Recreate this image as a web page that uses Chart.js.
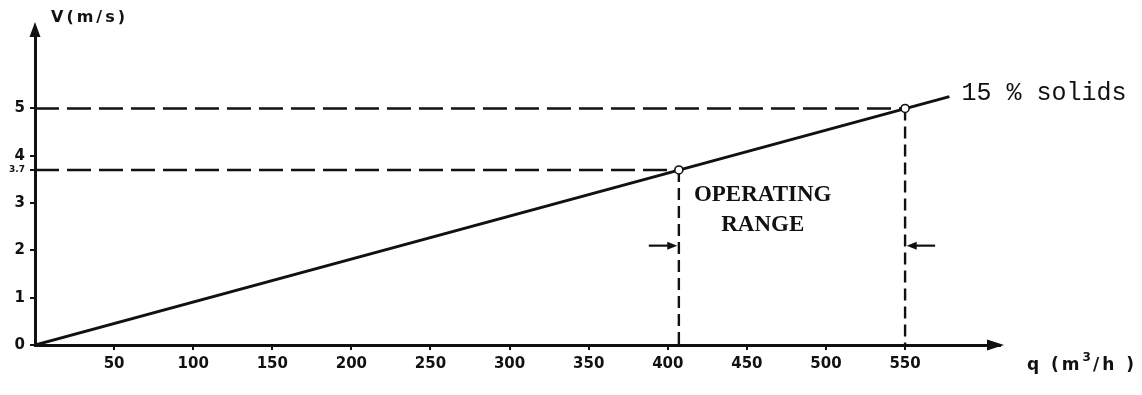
<!DOCTYPE html>
<html>
<head>
<meta charset="utf-8">
<script src="https://cdn.jsdelivr.net/npm/chart.js@4/dist/chart.umd.min.js"></script>
<style>
  html, body { margin: 0; padding: 0; background: #fff; }
  #wrap { width: 1142px; height: 395px; position: relative; }
</style>
</head>
<body>
<div id="wrap"><canvas id="c"></canvas></div>
<script>
// Flow rate q (m3/h) tick labels and velocity V (m/s) tick labels
const qTicks = [50, 100, 150, 200, 250, 300, 350, 400, 450, 500, 550];
const vTicks = [0, 1, 2, 3, 3.7, 4, 5];
const vTickLabels = ['0', '1', '2', '3', '3.7', '4', '5'];

// 15 % solids curve: velocity against flow rate
const curveQ = [0, 407, 550, 578];
const curveV = [0, 3.7, 5, 5.25];

// Limits of the operating range on the curve
const rangeQ = [407, 550];
const rangeV = [3.7, 5];

// Height of the range arrows and their length in q units
const arrowV = 2.1;
const arrowLen = 19;

const qMax = 610;
const vMax = 6.7;

const INK = '#111';

const toPts = (xs, ys) => xs.map((x, i) => ({ x: x, y: ys[i] }));

const datasets = [
  // dashed guides from the axes to the range limits
  ...rangeQ.map((q, i) => ({
    data: [{ x: 0, y: rangeV[i] }, { x: q, y: rangeV[i] }],
    borderColor: INK, borderWidth: 2.4, borderDash: [24, 8],
    pointRadius: 0, showLine: true, order: 3
  })),
  ...rangeQ.map((q, i) => ({
    data: [{ x: q, y: rangeV[i] }, { x: q, y: 0 }],
    borderColor: INK, borderWidth: 2.4, borderDash: [12, 6],
    pointRadius: 0, showLine: true, order: 3
  })),
  // the solids curve
  {
    data: toPts([curveQ[0], curveQ[curveQ.length - 1]], [curveV[0], curveV[curveV.length - 1]]),
    borderColor: INK, borderWidth: 3, pointRadius: 0, showLine: true, order: 2
  },
  // open circles marking the range limits
  {
    data: toPts(rangeQ, rangeV),
    showLine: false, pointRadius: 4, pointBackgroundColor: '#fff',
    pointBorderColor: INK, pointBorderWidth: 1.6, order: 1
  }
];

function arrowHead(ctx, x, y, dir, len, half) {
  // dir: unit vector [dx, dy] pointing to the tip
  const [dx, dy] = dir;
  const bx = x - dx * len, by = y - dy * len;
  ctx.beginPath();
  ctx.moveTo(x, y);
  ctx.lineTo(bx - dy * half, by + dx * half);
  ctx.lineTo(bx + dy * half, by - dx * half);
  ctx.closePath();
  ctx.fill();
}

const decorations = {
  id: 'decorations',
  afterDraw(chart) {
    const { ctx, chartArea: a, scales: { x, y } } = chart;
    ctx.save();
    ctx.fillStyle = INK;
    ctx.strokeStyle = INK;

    // axis arrowheads
    arrowHead(ctx, a.left, a.top - 6, [0, -1], 15, 5.5);
    arrowHead(ctx, a.right + 4, a.bottom, [1, 0], 17, 5.5);

    // axis titles
    ctx.textBaseline = 'middle';
    ctx.textAlign = 'left';
    ctx.font = 'bold 16px "DejaVu Sans"';
    ctx.letterSpacing = '3px';
    ctx.fillText('V(m/s)', a.left + 16, 18);

    const ty = a.bottom + 21;
    let tx = 1027;
    ctx.font = 'bold 17px "DejaVu Sans"';
    ctx.fillText('q (m', tx, ty);
    tx += ctx.measureText('q (m').width;
    ctx.font = 'bold 12px "DejaVu Sans"';
    ctx.letterSpacing = '1px';
    ctx.fillText('3', tx, ty - 8);
    tx += ctx.measureText('3').width + 1;
    ctx.font = 'bold 17px "DejaVu Sans"';
    ctx.letterSpacing = '3px';
    ctx.fillText('/h )', tx, ty);
    ctx.letterSpacing = '0px';

    // curve label
    const endQ = curveQ[curveQ.length - 1], endV = curveV[curveV.length - 1];
    ctx.font = '25px "Liberation Mono"';
    ctx.fillText('15 % solids', x.getPixelForValue(endQ) + 12, y.getPixelForValue(endV) - 3);

    // operating range caption
    const cx = x.getPixelForValue(460);
    ctx.textAlign = 'center';
    ctx.font = 'bold 23px "Liberation Serif"';
    ctx.fillText('OPERATING', cx, y.getPixelForValue(3.16));
    ctx.fillText('RANGE', cx, y.getPixelForValue(2.53));

    // range arrows pointing at the limit lines
    const ay = y.getPixelForValue(arrowV);
    ctx.lineWidth = 2.2;
    const pairs = [[rangeQ[0] - arrowLen, rangeQ[0] - 1], [rangeQ[1] + arrowLen, rangeQ[1] + 1]];
    pairs.forEach(([from, to]) => {
      const px0 = x.getPixelForValue(from), px1 = x.getPixelForValue(to);
      const d = px1 > px0 ? 1 : -1;
      ctx.beginPath();
      ctx.moveTo(px0, ay);
      ctx.lineTo(px1 - d * 6, ay);
      ctx.stroke();
      arrowHead(ctx, px1, ay, [d, 0], 10, 4);
    });
    ctx.restore();
  }
};

const tickFont = { family: '"DejaVu Sans"', weight: 'bold', size: 15 };

new Chart(document.getElementById('c'), {
  type: 'scatter',
  data: { datasets: datasets },
  options: {
    responsive: true,
    maintainAspectRatio: false,
    animation: false,
    layout: { padding: { top: 28, right: 142, left: 0, bottom: 0 } },
    plugins: { legend: { display: false }, tooltip: { enabled: false } },
    elements: { line: { tension: 0 } },
    scales: {
      x: {
        type: 'linear', min: 0, max: qMax,
        afterBuildTicks: s => { s.ticks = qTicks.map(v => ({ value: v })); },
        afterFit: s => { s.height = 50; },
        border: { display: true, color: INK, width: 3 },
        grid: { drawOnChartArea: false, drawTicks: true, tickLength: 5, color: INK, lineWidth: 2 },
        ticks: { color: INK, font: tickFont, padding: 5, maxRotation: 0, autoSkip: false }
      },
      y: {
        type: 'linear', min: 0, max: vMax,
        afterBuildTicks: s => { s.ticks = vTicks.map(v => ({ value: v })); },
        afterFit: s => { s.width = 35; },
        border: { display: true, color: INK, width: 3 },
        grid: { drawOnChartArea: false, drawTicks: true, tickLength: 5, color: INK, lineWidth: 2 },
        ticks: {
          color: INK, padding: 5, autoSkip: false,
          font: c => (c.tick && c.tick.value === 3.7) ? { family: '"DejaVu Sans"', weight: 'bold', size: 9 } : tickFont,
          callback: v => vTickLabels[vTicks.indexOf(v)]
        }
      }
    }
  },
  plugins: [decorations]
});
</script>
</body>
</html>
